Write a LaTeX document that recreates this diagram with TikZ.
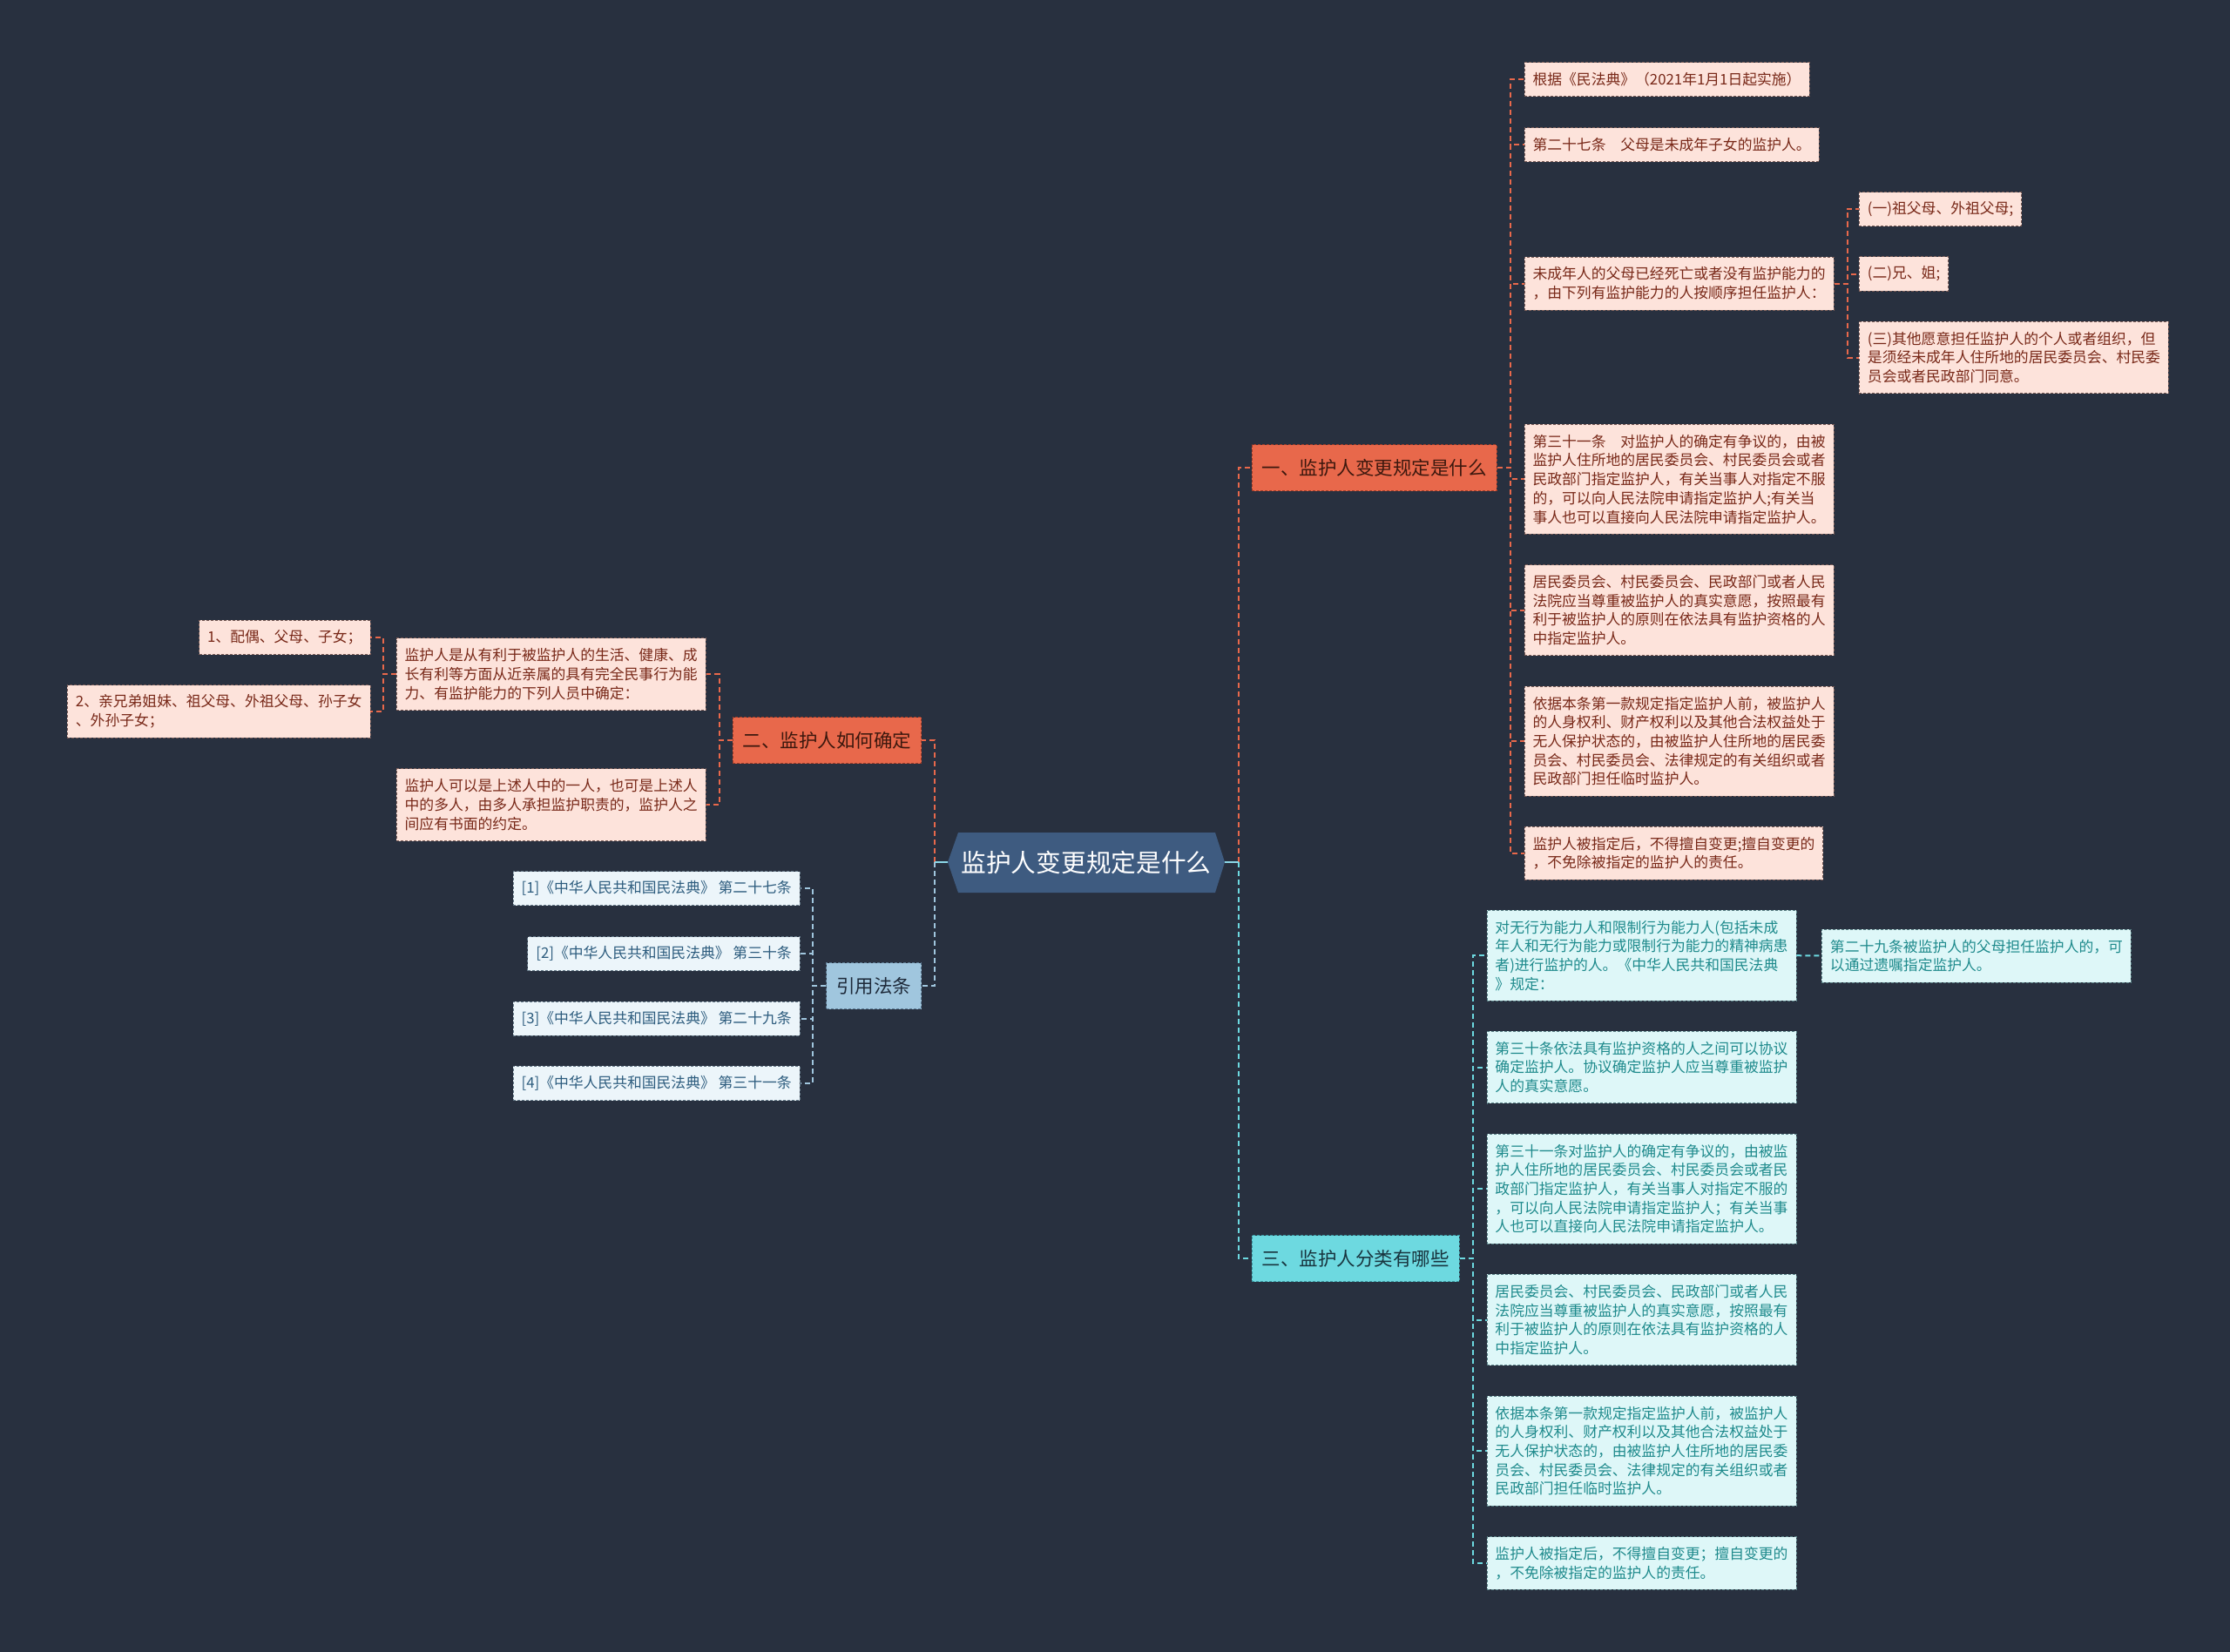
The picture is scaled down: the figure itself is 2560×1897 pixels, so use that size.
\documentclass[tikz,border=0pt]{standalone}
\usepackage{fontspec}
\newfontfamily\cjk{Noto Sans CJK SC}
\usetikzlibrary{calc}
\definecolor{bg}{RGB}{40,48,63}
\definecolor{rootfill}{RGB}{62,91,128}
\definecolor{stubc}{RGB}{140,216,232}
\definecolor{orline}{RGB}{232,104,75}
\definecolor{cyline}{RGB}{109,217,224}
\definecolor{blline}{RGB}{160,198,222}
\definecolor{orbr}{RGB}{232,104,75}
\definecolor{orbrtext}{RGB}{60,24,14}
\definecolor{orbrborder}{RGB}{160,60,40}
\definecolor{orfill}{RGB}{253,227,219}
\definecolor{ortext}{RGB}{120,40,24}
\definecolor{orborder}{RGB}{120,90,85}
\definecolor{cybr}{RGB}{109,217,224}
\definecolor{cybrtext}{RGB}{24,52,62}
\definecolor{cybrborder}{RGB}{60,150,160}
\definecolor{cyfill}{RGB}{222,247,248}
\definecolor{cytext}{RGB}{30,138,140}
\definecolor{cyborder}{RGB}{90,130,135}
\definecolor{blbr}{RGB}{160,198,222}
\definecolor{blbrtext}{RGB}{30,42,58}
\definecolor{blbrborder}{RGB}{90,120,145}
\definecolor{blfill}{RGB}{236,245,250}
\definecolor{bltext}{RGB}{45,92,126}
\definecolor{blborder}{RGB}{100,120,135}
\tikzset{
  basebox/.style={rectangle, inner xsep=9.5pt, inner ysep=3pt, align=left,
    line width=0.9pt, dash pattern=on 3pt off 2pt,
    font=\cjk\fontsize{16.8}{21.7}\selectfont},
  obox/.style={basebox, fill=orfill, draw=orborder, text=ortext},
  cbox/.style={basebox, fill=cyfill, draw=cyborder, text=cytext},
  bbox/.style={basebox, fill=blfill, draw=blborder, text=bltext},
  lone/.style={minimum height=39.2pt},
  ltwo/.style={minimum height=60.9pt},
  lthree/.style={minimum height=82.6pt},
  lfour/.style={minimum height=104.3pt},
  lfive/.style={minimum height=126pt},
  brbase/.style={rectangle, inner xsep=11.5pt, inner ysep=3pt, minimum height=53pt,
    line width=0.9pt, dash pattern=on 3pt off 2pt,
    font=\cjk\fontsize{21.5}{26}\selectfont},
  obr/.style={brbase, fill=orbr, draw=orbrborder, text=orbrtext},
  cbr/.style={brbase, fill=cybr, draw=cybrborder, text=cybrtext},
  bbr/.style={brbase, fill=blbr, draw=blbrborder, text=blbrtext},
  conn/.style={line width=2pt, dash pattern=on 6pt off 4pt},
  oline/.style={conn, draw=orline},
  cline/.style={conn, draw=cyline},
  bline/.style={conn, draw=blline},
  stubline/.style={line width=2.5pt, draw=stubc},
}
\begin{document}
\begin{tikzpicture}[x=1pt,y=-1pt]
\fill[bg] (0,0) rectangle (2560,1897);
\useasboundingbox (0,0) rectangle (2560,1897);

% root
\fill[rootfill] (1088,990) -- (1100,956) -- (1395,956) -- (1406,990) -- (1395,1025) -- (1100,1025) -- cycle;
\node[font=\cjk\fontsize{28.7}{32}\selectfont, text=white, minimum width=317pt, minimum height=69pt, inner sep=0pt] (root) at (1247,990) {监护人变更规定是什么};

% branches
\node[obr, anchor=west] (b1) at (1437,537) {一、监护人变更规定是什么};
\node[cbr, anchor=west] (b3) at (1437,1445) {三、监护人分类有哪些};
\node[obr, anchor=east] (b2) at (1058,850) {二、监护人如何确定};
\node[bbr, anchor=east] (b4) at (1058,1132) {引用法条};

% branch 1 children
\node[obox, lone, anchor=west] (a1) at (1749.6,91.2) {根据《民法典》（2021年1月1日起实施）};
\node[obox, lone, anchor=west] (a2) at (1749.6,166.2) {第二十七条　父母是未成年子女的监护人。};
\node[obox, ltwo, anchor=west] (a3) at (1749.6,325.5) {未成年人的父母已经死亡或者没有监护能力的\\，由下列有监护能力的人按顺序担任监护人：};
\node[obox, lfive, anchor=west] (a4) at (1749.6,550.3) {第三十一条　对监护人的确定有争议的，由被\\监护人住所地的居民委员会、村民委员会或者\\民政部门指定监护人，有关当事人对指定不服\\的，可以向人民法院申请指定监护人;有关当\\事人也可以直接向人民法院申请指定监护人。};
\node[obox, lfour, anchor=west] (a5) at (1749.6,700.7) {居民委员会、村民委员会、民政部门或者人民\\法院应当尊重被监护人的真实意愿，按照最有\\利于被监护人的原则在依法具有监护资格的人\\中指定监护人。};
\node[obox, lfive, anchor=west] (a6) at (1749.6,851) {依据本条第一款规定指定监护人前，被监护人\\的人身权利、财产权利以及其他合法权益处于\\无人保护状态的，由被监护人住所地的居民委\\员会、村民委员会、法律规定的有关组织或者\\民政部门担任临时监护人。};
\node[obox, ltwo, anchor=west] (a7) at (1749.6,979.7) {监护人被指定后，不得擅自变更;擅自变更的\\，不免除被指定的监护人的责任。};
\node[obox, lone, anchor=west] (c1) at (2134,240.3) {(一)祖父母、外祖父母;};
\node[obox, lone, anchor=west] (c2) at (2134,314.5) {(二)兄、姐;};
\node[obox, lthree, anchor=west] (c3) at (2134,410.5) {(三)其他愿意担任监护人的个人或者组织，但\\是须经未成年人住所地的居民委员会、村民委\\员会或者民政部门同意。};

% branch 3 children
\node[cbox, lfour, anchor=west] (h1) at (1706.5,1097.2) {对无行为能力人和限制行为能力人(包括未成\\年人和无行为能力或限制行为能力的精神病患\\者)进行监护的人。《中华人民共和国民法典\\》规定：};
\node[cbox, ltwo, anchor=west] (h1a) at (2091,1097.5) {第二十九条被监护人的父母担任监护人的，可\\以通过遗嘱指定监护人。};
\node[cbox, lthree, anchor=west] (h2) at (1706.5,1225.5) {第三十条依法具有监护资格的人之间可以协议\\确定监护人。协议确定监护人应当尊重被监护\\人的真实意愿。};
\node[cbox, lfive, anchor=west] (h3) at (1706.5,1365) {第三十一条对监护人的确定有争议的，由被监\\护人住所地的居民委员会、村民委员会或者民\\政部门指定监护人，有关当事人对指定不服的\\，可以向人民法院申请指定监护人；有关当事\\人也可以直接向人民法院申请指定监护人。};
\node[cbox, lfour, anchor=west] (h4) at (1706.5,1515.5) {居民委员会、村民委员会、民政部门或者人民\\法院应当尊重被监护人的真实意愿，按照最有\\利于被监护人的原则在依法具有监护资格的人\\中指定监护人。};
\node[cbox, lfive, anchor=west] (h5) at (1706.5,1666) {依据本条第一款规定指定监护人前，被监护人\\的人身权利、财产权利以及其他合法权益处于\\无人保护状态的，由被监护人住所地的居民委\\员会、村民委员会、法律规定的有关组织或者\\民政部门担任临时监护人。};
\node[cbox, ltwo, anchor=west] (h6) at (1706.5,1795) {监护人被指定后，不得擅自变更；擅自变更的\\，不免除被指定的监护人的责任。};

% branch 2 children
\node[obox, lthree, anchor=east] (n1) at (810.6,774.2) {监护人是从有利于被监护人的生活、健康、成\\长有利等方面从近亲属的具有完全民事行为能\\力、有监护能力的下列人员中确定：};
\node[obox, lthree, anchor=east] (n2) at (810.6,924.2) {监护人可以是上述人中的一人，也可是上述人\\中的多人，由多人承担监护职责的，监护人之\\间应有书面的约定。};
\node[obox, lone, anchor=east] (m1) at (425.4,732) {1、配偶、父母、子女；};
\node[obox, ltwo, anchor=east] (m2) at (425.4,817) {2、亲兄弟姐妹、祖父母、外祖父母、孙子女\\、外孙子女；};

% branch 4 children
\node[bbox, lone, anchor=east] (r1) at (918.6,1020.3) {[1]《中华人民共和国民法典》 第二十七条};
\node[bbox, lone, anchor=east] (r2) at (918.6,1095.3) {[2]《中华人民共和国民法典》 第三十条};
\node[bbox, lone, anchor=east] (r3) at (918.6,1169.7) {[3]《中华人民共和国民法典》 第二十九条};
\node[bbox, lone, anchor=east] (r4) at (918.6,1244) {[4]《中华人民共和国民法典》 第三十一条};

% root connectors
\coordinate (rj) at ($(root.east)+(16,0)$);
\coordinate (lj) at ($(root.west)+(-15,0)$);
\draw[oline] (rj) |- (b1.west);
\draw[cline] (rj) |- (b3.west);
\draw[oline] (lj) |- (b2.east);
\draw[bline] (lj) |- (b4.east);
\draw[stubline] (root.east) -- (rj);
\draw[stubline] (root.west) -- (lj);

% branch 1
\foreach \n in {a1,a2,a3,a4,a5,a6,a7}{
  \draw[oline] (b1.east) -- ++(15,0) |- (\n.west);
}
\foreach \n in {c1,c2,c3}{
  \draw[oline] (a3.east) -- ++(15,0) |- (\n.west);
}
% branch 3
\foreach \n in {h1,h2,h3,h4,h5,h6}{
  \draw[cline] (b3.east) -- ++(15,0) |- (\n.west);
}
\draw[cline] (h1.east) -- (h1a.west);
% branch 2
\foreach \n in {n1,n2}{
  \draw[oline] (b2.west) -- ++(-15,0) |- (\n.east);
}
\foreach \n in {m1,m2}{
  \draw[oline] (n1.west) -- ++(-15,0) |- (\n.east);
}
% branch 4
\foreach \n in {r1,r2,r3,r4}{
  \draw[bline] (b4.west) -- ++(-15,0) |- (\n.east);
}
\end{tikzpicture}
\end{document}
